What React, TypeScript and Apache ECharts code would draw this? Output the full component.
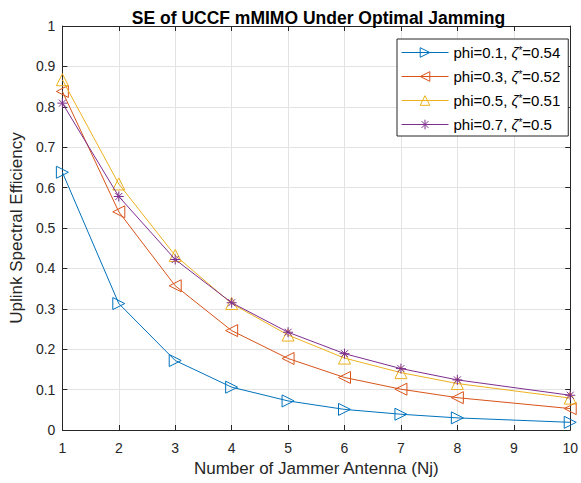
import React, { useEffect, useRef } from "react";
import * as echarts from "echarts";

const xValues = [1, 2, 3, 4, 5, 6, 7, 8, 10];
const phiLabels = ["phi=0.1", "phi=0.3", "phi=0.5", "phi=0.7"];
const zetaLabels = ["0.54", "0.52", "0.51", "0.5"];
const se01 = [0.638, 0.313, 0.172, 0.106, 0.072, 0.051, 0.039, 0.030, 0.019];
const se03 = [0.838, 0.540, 0.357, 0.246, 0.177, 0.130, 0.101, 0.080, 0.053];
const se05 = [0.867, 0.609, 0.432, 0.313, 0.235, 0.178, 0.142, 0.115, 0.079];
const se07 = [0.809, 0.578, 0.422, 0.315, 0.242, 0.189, 0.152, 0.124, 0.086];
const yTicks = [0, 0.1, 0.2, 0.3, 0.4, 0.5, 0.6, 0.7, 0.8, 0.9, 1];
const xTicks = [1, 2, 3, 4, 5, 6, 7, 8, 9, 10];

const colors = ["#0072BD", "#D95319", "#EDB120", "#7E2F8E"];
const FONT = "'Liberation Sans', Arial, Helvetica, sans-serif";
const ASTERISK =
  "path://M0,-10L0,10M-10,0L10,0M-7,-7L7,7M-7,7L7,-7";

export default function App() {
  const ref = useRef<HTMLDivElement>(null);
  useEffect(() => {
    if (!ref.current) return;
    const chart = echarts.init(ref.current, undefined, { renderer: "svg" });
    const seriesData = [se01, se03, se05, se07];
    const symbols = ["triangle", "triangle", "triangle", ASTERISK];
    const rotations = [-90, 90, 0, 0];
    const sizes = [12, 12, 12, 10];
    const names = phiLabels.map((p, i) => `${p}, ζ*=${zetaLabels[i]}`);
    const axisColor = "#262626";
    const series = seriesData.map((vals, i) => ({
      name: names[i],
      type: "line",
      data: xValues.map((x, j) => [x, vals[j]]),
      symbol: symbols[i],
      symbolRotate: rotations[i],
      symbolSize: sizes[i],
      showAllSymbol: true,
      lineStyle: { color: colors[i], width: 1 },
      itemStyle: {
        color: "rgba(255,255,255,0)",
        borderColor: colors[i],
        borderWidth: 1,
      },
      emphasis: { disabled: true },
      z: 2 + i,
    }));
    chart.setOption({
      animation: false,
      textStyle: { fontFamily: FONT },
      title: {
        text: "SE of UCCF mMIMO Under Optimal Jamming",
        left: 313.5,
        textAlign: "center",
        top: 4,
        textStyle: { fontFamily: FONT, fontWeight: "bold", fontSize: 17.5, color: "#000" },
      },
      grid: { left: 60, right: 8, top: 26, bottom: 53, containLabel: false },
      legend: {
        orient: "vertical",
        left: 397,
        top: 39,
        itemWidth: 47,
        itemHeight: 12,
        itemGap: 9,
        padding: [6, 8, 4, 4],
        backgroundColor: "#fff",
        borderColor: axisColor,
        borderWidth: 1,
        borderRadius: 0,
        lineStyle: { width: 1 },
        itemStyle: { borderWidth: 1 },
        data: names,
        formatter: (name: string) => {
          const idx = names.indexOf(name);
          return `${phiLabels[idx]}, {z|ζ}{s|*}=${zetaLabels[idx]}`;
        },
        textStyle: {
          fontFamily: FONT,
          fontSize: 15,
          color: "#000",
          rich: {
            z: { fontFamily: FONT, fontSize: 15, fontStyle: "italic", color: "#000" },
            s: { fontFamily: FONT, fontSize: 10, color: "#000", verticalAlign: "top", padding: [0, 0, 4, 0] },
          },
        },
      },
      xAxis: [
        {
          type: "value",
          min: xTicks[0],
          max: xTicks[xTicks.length - 1],
          interval: 1,
          name: "Number of Jammer Antenna (Nj)",
          nameLocation: "middle",
          nameGap: 27,
          nameTextStyle: { fontFamily: FONT, fontSize: 17, color: axisColor },
          axisLine: { lineStyle: { color: axisColor, width: 1 } },
          axisTick: { inside: true, length: 5, lineStyle: { color: axisColor } },
          axisLabel: { margin: 11, fontSize: 14, color: axisColor, fontFamily: FONT },
          splitLine: { show: true, lineStyle: { color: "#e3e3e3", width: 1 } },
        },
        {
          type: "value",
          position: "top",
          min: xTicks[0],
          max: xTicks[xTicks.length - 1],
          interval: 1,
          axisLine: { show: true, onZero: false, lineStyle: { color: axisColor, width: 1 } },
          axisTick: { show: true, inside: true, length: 5, lineStyle: { color: axisColor } },
          axisLabel: { show: false },
          splitLine: { show: false },
        },
      ],
      yAxis: [
        {
          type: "value",
          min: yTicks[0],
          max: yTicks[yTicks.length - 1],
          interval: 0.1,
          name: "Uplink Spectral Efficiency",
          nameLocation: "middle",
          nameGap: 33,
          nameTextStyle: { fontFamily: FONT, fontSize: 17, color: axisColor },
          axisLine: { show: true, onZero: false, lineStyle: { color: axisColor, width: 1 } },
          axisTick: { show: true, inside: true, length: 5, lineStyle: { color: axisColor } },
          axisLabel: { margin: 7, fontSize: 14, color: axisColor, fontFamily: FONT },
          splitLine: { show: true, lineStyle: { color: "#e3e3e3", width: 1 } },
        },
        {
          type: "value",
          position: "right",
          min: yTicks[0],
          max: yTicks[yTicks.length - 1],
          interval: 0.1,
          axisLine: { show: true, onZero: false, lineStyle: { color: axisColor, width: 1 } },
          axisTick: { show: true, inside: true, length: 5, lineStyle: { color: axisColor } },
          axisLabel: { show: false },
          splitLine: { show: false },
        },
      ],
      series,
    });
    return () => chart.dispose();
  }, []);
  return <div ref={ref} style={{ width: 581, height: 483, position: "absolute", left: 0, top: 0, background: "#fff" }} />;
}
